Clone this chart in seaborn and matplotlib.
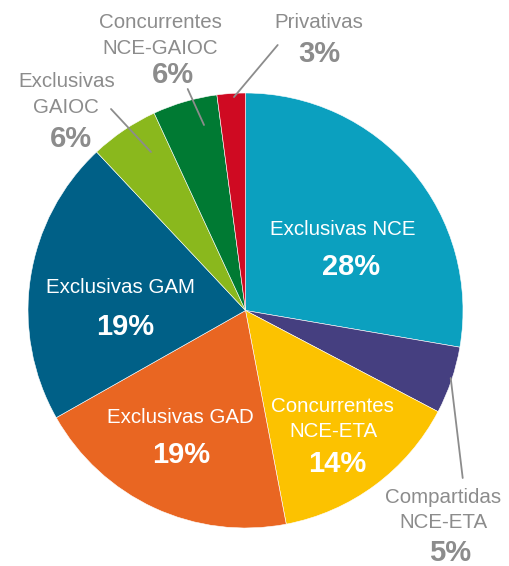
import matplotlib
matplotlib.use("Agg")
import matplotlib.pyplot as plt
import seaborn as sns

# Data (shares, labels as printed on the chart)
categories = ["Exclusivas NCE", "Compartidas NCE-ETA", "Concurrentes NCE-ETA",
              "Exclusivas GAD", "Exclusivas GAM", "Exclusivas GAIOC",
              "Concurrentes NCE-GAIOC", "Privativas"]
shares = [27.7, 5.0, 14.3, 19.8, 21.2, 5.1, 4.8, 2.1]
pct_labels = ["28%", "5%", "14%", "19%", "19%", "6%", "6%", "3%"]
colors = ["#0BA0BF", "#453F80", "#FCC200", "#E96622",
          "#006087", "#8AB81D", "#007A33", "#CF0A22"]

sns.set_theme(style="white")
plt.rcParams['font.family'] = ['Liberation Sans', 'DejaVu Sans']

W, H = 510, 566
fig = plt.figure(figsize=(W / 100, H / 100), dpi=100)
ax = fig.add_axes([0, 0, 1, 1])

ax.pie(shares, colors=colors, startangle=90, counterclock=False,
       center=(245.5, H - 310.5), radius=217.5,
       wedgeprops=dict(edgecolor="white", linewidth=0.4))
ax.set_xlim(0, W)
ax.set_ylim(0, H)
ax.set_aspect("equal")
ax.axis("off")

grey = "#8C8C8C"

# label layout: text lines with (x, baseline y in pixels from top)
layout = {
    "Exclusivas NCE": ("white", [("Exclusivas NCE", 343, 235)], (351, 275)),
    "Compartidas NCE-ETA": (grey, [("Compartidas", 443.5, 503), ("NCE-ETA", 443.5, 528)], (450, 561)),
    "Concurrentes NCE-ETA": ("white", [("Concurrentes", 332, 412), ("NCE-ETA", 333, 437)], (337, 472)),
    "Exclusivas GAD": ("white", [("Exclusivas GAD", 180, 423)], (181, 463)),
    "Exclusivas GAM": ("white", [("Exclusivas GAM", 120, 293)], (125, 335)),
    "Exclusivas GAIOC": (grey, [("Exclusivas", 66.5, 87), ("GAIOC", 65.5, 113)], (70.5, 147)),
    "Concurrentes NCE-GAIOC": (grey, [("Concurrentes", 160, 28), ("NCE-GAIOC", 160.5, 54)], (173, 83)),
    "Privativas": (grey, [("Privativas", 319, 28)], (319, 62)),
}

for cat, pct in zip(categories, pct_labels):
    col, lines, (px, py) = layout[cat]
    for txt, x, y in lines:
        ax.text(x, H - y, txt, color=col, fontsize=14.8, ha="center", va="baseline")
    ax.text(px, H - py, pct, color=col, fontsize=21, fontweight="bold",
            ha="center", va="baseline")

# leader lines for the small slices
leaders = [((277.7, 45), (234, 97)), ((187.7, 89), (204, 125)),
           ((111, 109), (151, 152)), ((462.7, 478), (450.7, 378))]
for (x0, y0), (x1, y1) in leaders:
    ax.plot([x0, x1], [H - y0, H - y1], color=grey, linewidth=1.3)

fig.savefig("out.png", dpi=100)
